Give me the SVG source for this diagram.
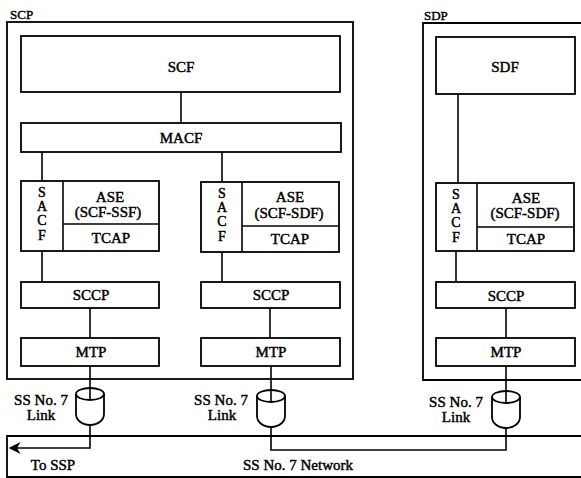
<svg xmlns="http://www.w3.org/2000/svg" width="581" height="478" viewBox="0 0 581 478">
<style>
.b{fill:#fff;stroke:#000;stroke-width:1.8}
.o{fill:none;stroke:#000;stroke-width:1.8}
.l{fill:none;stroke:#000;stroke-width:1.6}
.t{font-family:"Liberation Serif","Times New Roman","DejaVu Serif",serif;font-weight:normal;font-size:15px;text-anchor:middle;fill:#000;stroke:#000;stroke-width:0.45}
.v{font-family:"Liberation Serif","Times New Roman","DejaVu Serif",serif;font-size:14px;text-anchor:middle;fill:#000;stroke:#000;stroke-width:0.45}
.s{font-family:"Liberation Serif","Times New Roman","DejaVu Serif",serif;font-size:13px;fill:#000;stroke:#000;stroke-width:0.4}
</style>
<defs>
<marker id="ah" viewBox="0 0 10 10" refX="8" refY="5" markerWidth="12" markerHeight="12" orient="auto-start-reverse" markerUnits="userSpaceOnUse">
<path d="M0,0 L10,5 L0,10 L3,5 Z" fill="#000"/>
</marker>
</defs>
<rect width="581" height="478" fill="#fff"/>

<g id="scp">
<rect class="o" x="7" y="22" width="346" height="357"/>
<text class="s" x="10" y="19">SCP</text>
</g>
<g id="sdp">
<path class="o" d="M582,23 H423 V380 H582"/>
<text class="s" x="424" y="20">SDP</text>
</g>
<g id="network">
<path class="o" d="M582,436 H7 V477 H582"/>
<text class="t" x="53" y="470">To SSP</text>
<text class="t" x="298" y="470">SS No. 7 Network</text>
</g>

<g id="connectors">
<line class="l" x1="181" y1="92" x2="181" y2="123"/>
<line class="l" x1="42" y1="152" x2="42" y2="181"/>
<line class="l" x1="222" y1="152" x2="222" y2="182"/>
<line class="l" x1="458" y1="94" x2="458" y2="183"/>
<line class="l" x1="42" y1="251" x2="42" y2="282"/>
<line class="l" x1="222" y1="252" x2="222" y2="282"/>
<line class="l" x1="456" y1="251" x2="456" y2="282"/>
<line class="l" x1="90" y1="308" x2="90" y2="338"/>
<line class="l" x1="270" y1="308" x2="270" y2="338"/>
<line class="l" x1="506" y1="308" x2="506" y2="338"/>
<line class="l" x1="90" y1="366" x2="90" y2="399"/>
<line class="l" x1="271" y1="366" x2="271" y2="401"/>
<line class="l" x1="506" y1="366" x2="506" y2="402"/>
<path class="l" d="M90,425 V448 H11" marker-end="url(#ah)"/>
<path class="l" d="M271,427 V450 H506 V428"/>
</g>

<g id="scf"><rect class="b" x="21" y="36" width="319" height="56"/><text class="t" x="181" y="72">SCF</text></g>
<g id="sdf"><rect class="b" x="436" y="37" width="139" height="57"/><text class="t" x="505" y="72">SDF</text></g>
<g id="macf"><rect class="b" x="21" y="123" width="320" height="29"/><text class="t" x="181" y="143">MACF</text></g>

<g id="ase-ssf">
<rect class="b" x="21" y="181" width="138" height="70"/>
<line class="l" x1="63" y1="181" x2="63" y2="251"/>
<line class="l" x1="63" y1="224" x2="159" y2="224"/>
<text class="v" x="42" y="197">S</text><text class="v" x="42" y="211">A</text><text class="v" x="42" y="225">C</text><text class="v" x="42" y="240">F</text>
<text class="t" x="110" y="202">ASE</text><text class="t" x="108" y="217">(SCF-SSF)</text><text class="t" x="111" y="243">TCAP</text>
</g>
<g id="ase-sdf-1">
<rect class="b" x="201" y="182" width="138" height="70"/>
<line class="l" x1="242" y1="182" x2="242" y2="252"/>
<line class="l" x1="242" y1="226" x2="339" y2="226"/>
<text class="v" x="222" y="198">S</text><text class="v" x="222" y="212">A</text><text class="v" x="222" y="226">C</text><text class="v" x="222" y="241">F</text>
<text class="t" x="290" y="202">ASE</text><text class="t" x="289" y="218">(SCF-SDF)</text><text class="t" x="290" y="244">TCAP</text>
</g>
<g id="ase-sdf-2">
<rect class="b" x="436" y="183" width="138" height="68"/>
<line class="l" x1="477" y1="183" x2="477" y2="251"/>
<line class="l" x1="477" y1="227" x2="574" y2="227"/>
<text class="v" x="456" y="199">S</text><text class="v" x="456" y="213">A</text><text class="v" x="456" y="227">C</text><text class="v" x="456" y="242">F</text>
<text class="t" x="526" y="203">ASE</text><text class="t" x="525" y="218">(SCF-SDF)</text><text class="t" x="526" y="244">TCAP</text>
</g>

<g id="sccp-1"><rect class="b" x="21" y="282" width="138" height="26"/><text class="t" x="91" y="300">SCCP</text></g>
<g id="sccp-2"><rect class="b" x="201" y="282" width="139" height="26"/><text class="t" x="271" y="300">SCCP</text></g>
<g id="sccp-3"><rect class="b" x="436" y="282" width="139" height="26"/><text class="t" x="506" y="301">SCCP</text></g>
<g id="mtp-1"><rect class="b" x="21" y="338" width="138" height="28"/><text class="t" x="91" y="357">MTP</text></g>
<g id="mtp-2"><rect class="b" x="201" y="338" width="139" height="28"/><text class="t" x="271" y="357">MTP</text></g>
<g id="mtp-3"><rect class="b" x="436" y="338" width="139" height="28"/><text class="t" x="506" y="357">MTP</text></g>

<g id="link-1">
<path class="o" d="M76,394 V414 C76,420 82,425 90,425 C98,425 104,420 104,414 V394"/>
<ellipse class="o" cx="90" cy="394" rx="14" ry="6"/>
<text class="t" x="41" y="405">SS No. 7</text><text class="t" x="41" y="420">Link</text>
</g>
<g id="link-2">
<path class="o" d="M257,396 V416 C257,422 263,427 271,427 C279,427 285,422 285,416 V396"/>
<ellipse class="o" cx="271" cy="396" rx="14" ry="6"/>
<text class="t" x="221" y="405">SS No. 7</text><text class="t" x="222" y="420">Link</text>
</g>
<g id="link-3">
<path class="o" d="M492,397 V417 C492,423 498,428 506,428 C514,428 520,423 520,417 V397"/>
<ellipse class="o" cx="506" cy="397" rx="14" ry="6"/>
<text class="t" x="456" y="407">SS No. 7</text><text class="t" x="456" y="422">Link</text>
</g>
</svg>
